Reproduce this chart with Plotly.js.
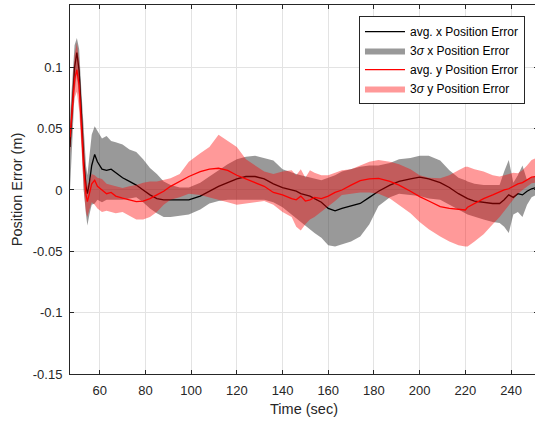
<!DOCTYPE html>
<html>
<head>
<meta charset="utf-8">
<script src="https://cdn.plot.ly/plotly-3.0.1.min.js"></script>
<style>html,body{margin:0;padding:0;overflow:hidden;background:#fff}</style>
</head>
<body>
<div id="chart"></div>
<script>
const time = [47,48,49,50,51,52,53,54,54.6,55.5,56.5,57.8,59,61,63,65,67,70,73,76,79,82,85,88,91,95,99,104,108,112,116,120,124,128,132,136,140,144,146,148,150,152,154,157,160,163,166,170,174,178,182,187,191,196,200,204,209,213,217,220,221,224,228,232,235,237,239,241,243,245,247,249,251];

const xAvg = [0.035,0.07,0.1,0.112,0.097,0.062,0.025,0.003,-0.003,0.006,0.02,0.029,0.023,0.017,0.016,0.017,0.014,0.01,0.007,0.004,0.0,-0.004,-0.007,-0.008,-0.008,-0.008,-0.008,-0.005,-0.001,0.003,0.006,0.009,0.011,0.011,0.009,0.005,0.002,0.0,-0.001,-0.003,-0.004,-0.005,-0.007,-0.01,-0.015,-0.017,-0.015,-0.013,-0.011,-0.006,-0.001,0.004,0.007,0.009,0.0104,0.009,0.006,0.002,-0.003,-0.006,-0.007,-0.009,-0.01,-0.011,-0.011,-0.008,-0.004,-0.006,-0.003,-0.004,-0.001,0.001,0.002];
const xUpper = [0.06,0.09,0.118,0.124,0.115,0.08,0.045,0.02,0.012,0.03,0.045,0.052,0.048,0.042,0.044,0.04,0.039,0.037,0.033,0.031,0.025,0.018,0.013,0.007,0.004,0.002,0.002,0.006,0.011,0.016,0.021,0.025,0.027,0.028,0.026,0.024,0.017,0.014,0.013,0.012,0.011,0.01,0.009,0.008,0.01,0.012,0.015,0.017,0.019,0.02,0.02,0.022,0.025,0.026,0.028,0.028,0.024,0.016,0.01,0.008,0.007,0.005,0.004,0.004,0.004,0.015,0.0245,0.006,0.012,0.02,0.008,0.01,0.012];
const xLower = [0.0,0.04,0.08,0.095,0.075,0.04,0.0,-0.02,-0.029,-0.02,-0.012,-0.011,-0.008,-0.01,-0.008,-0.008,-0.008,-0.008,-0.007,-0.006,-0.01,-0.015,-0.019,-0.022,-0.022,-0.021,-0.02,-0.016,-0.011,-0.009,-0.008,-0.008,-0.008,-0.008,-0.008,-0.01,-0.014,-0.02,-0.023,-0.026,-0.029,-0.032,-0.035,-0.039,-0.045,-0.046,-0.044,-0.042,-0.038,-0.028,-0.013,-0.006,-0.003,-0.004,-0.005,-0.007,-0.008,-0.012,-0.016,-0.019,-0.02,-0.022,-0.024,-0.026,-0.027,-0.03,-0.035,-0.02,-0.018,-0.022,-0.012,-0.006,-0.004];

const yAvg = [0.043,0.068,0.09,0.098,0.085,0.052,0.018,-0.004,-0.0095,-0.003,0.005,0.008,0.003,0.0,-0.003,-0.002,-0.005,-0.0066,-0.008,-0.0095,-0.009,-0.007,-0.004,-0.001,0.003,0.007,0.011,0.015,0.017,0.0177,0.016,0.012,0.009,0.006,0.003,-0.002,-0.004,-0.007,-0.008,-0.005,-0.009,-0.008,-0.006,-0.007,-0.005,-0.002,0.0,0.004,0.0076,0.009,0.0095,0.007,0.004,-0.001,-0.0054,-0.009,-0.0136,-0.015,-0.0155,-0.0163,-0.014,-0.011,-0.007,-0.004,-0.0014,0.0,0.001,0.003,0.005,0.006,0.008,0.0104,0.011];
const yUpper = [0.05,0.085,0.11,0.12,0.105,0.07,0.035,0.01,0.003,0.008,0.013,0.012,0.01,0.009,0.005,0.004,0.003,0.0016,0.003,0.004,0.006,0.007,0.007,0.008,0.0095,0.013,0.023,0.03,0.035,0.045,0.04,0.035,0.025,0.02,0.015,0.013,0.015,0.016,0.012,0.017,0.01,0.016,0.014,0.012,0.012,0.014,0.016,0.017,0.02,0.023,0.0245,0.023,0.021,0.017,0.012,0.01,0.0095,0.012,0.016,0.019,0.019,0.017,0.015,0.012,0.011,0.012,0.013,0.014,0.0136,0.016,0.02,0.0245,0.026];
const yLower = [0.03,0.055,0.075,0.08,0.065,0.035,0.0,-0.018,-0.022,-0.016,-0.01,-0.012,-0.015,-0.018,-0.017,-0.018,-0.019,-0.018,-0.021,-0.024,-0.024,-0.022,-0.018,-0.012,-0.008,-0.006,-0.003,-0.004,-0.0054,-0.008,-0.01,-0.012,-0.011,-0.01,-0.009,-0.012,-0.018,-0.022,-0.03,-0.033,-0.028,-0.024,-0.022,-0.018,-0.0136,-0.009,-0.004,-0.003,-0.002,-0.002,-0.003,-0.007,-0.012,-0.019,-0.026,-0.032,-0.038,-0.042,-0.045,-0.046,-0.046,-0.042,-0.036,-0.028,-0.022,-0.018,-0.012,-0.008,-0.003,0.0,0.003,0.0054,0.006];

const xTicks = [60,80,100,120,140,160,180,200,220,240];
const yTicks = [-0.15,-0.1,-0.05,0,0.05,0.1];
const yTickText = ['-0.15','-0.1','-0.05','0','0.05','0.1'];

function band(t, up, lo) {
  return { x: t.concat(t.slice().reverse()), y: up.concat(lo.slice().reverse()) };
}
const bx = band(time, xUpper, xLower);
const by = band(time, yUpper, yLower);

const traces = [
  { x: bx.x, y: bx.y, type: 'scatter', mode: 'lines', fill: 'toself',
    fillcolor: 'rgba(70,70,70,0.55)', line: {width: 0, color: 'rgba(0,0,0,0)'},
    name: '3<i>σ</i> x Position Error', legendrank: 2, hoverinfo: 'skip' },
  { x: time, y: xAvg, type: 'scatter', mode: 'lines', line: {color: '#000000', width: 1.3},
    name: 'avg. x Position Error', legendrank: 1 },
  { x: by.x, y: by.y, type: 'scatter', mode: 'lines', fill: 'toself',
    fillcolor: 'rgba(255,0,0,0.4)', line: {width: 0, color: 'rgba(0,0,0,0)'},
    name: '3<i>σ</i> y Position Error', legendrank: 4, hoverinfo: 'skip' },
  { x: time, y: yAvg, type: 'scatter', mode: 'lines', line: {color: '#ff0000', width: 1.3},
    name: 'avg. y Position Error', legendrank: 3 }
];

const FONT = 'Liberation Sans, Arial, sans-serif';
const axisCommon = {
  showline: true, linecolor: '#262626', linewidth: 1, mirror: 'ticks',
  ticks: 'inside', ticklen: 4, tickcolor: '#262626', tickwidth: 1,
  showgrid: true, gridcolor: '#e3e3e3', gridwidth: 1, zeroline: false,
  tickfont: {family: FONT, size: 13, color: '#262626'}
};

const layout = {
  width: 538, height: 425,
  margin: {l: 70, r: 0, t: 5, b: 51},
  paper_bgcolor: '#ffffff', plot_bgcolor: '#ffffff',
  showlegend: true,
  xaxis: Object.assign({}, axisCommon, {
    range: [47, 251.8], tickvals: xTicks, ticklabelstandoff: 4,
    title: {text: 'Time (sec)', standoff: 7,
      font: {family: FONT, size: 14.5, color: '#262626'}}
  }),
  yaxis: Object.assign({}, axisCommon, {
    range: [-0.15, 0.1508], tickvals: yTicks, ticktext: yTickText, ticklabelstandoff: 4,
    title: {text: 'Position Error (m)', standoff: 6,
      font: {family: FONT, size: 14.5, color: '#262626'}}
  }),
  legend: {
    x: 0.9722, xanchor: 'right', y: 0.97, yanchor: 'top',
    bgcolor: '#ffffff', bordercolor: '#262626', borderwidth: 1,
    font: {family: FONT, size: 12, color: '#000000'},
    tracegroupgap: 0, itemwidth: 40
  }
};

Plotly.newPlot('chart', traces, layout, {displayModeBar: false, staticPlot: true});
</script>
</body>
</html>
